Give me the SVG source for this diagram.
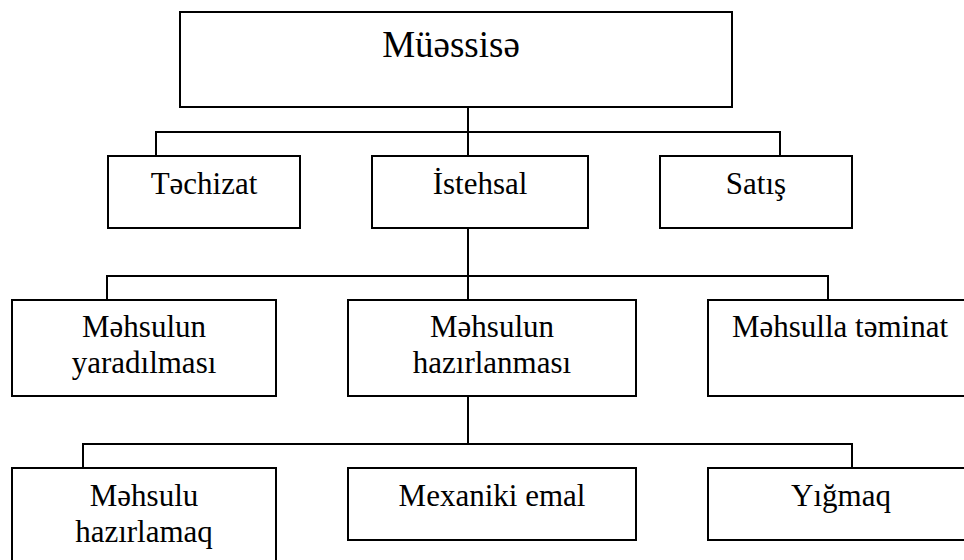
<svg xmlns="http://www.w3.org/2000/svg" width="964" height="560" viewBox="0 0 964 560">
<defs>
<rect id="boxdef" width="1" height="1"/>
</defs>
<rect width="964" height="560" fill="#fff"/>
<g id="connectors" fill="none" stroke="#000" stroke-width="2">
<path d="M468,107 V156"/>
<path d="M156,156 V132 H780 V156"/>
<path d="M468,228 V300"/>
<path d="M107,300 V276 H828 V300"/>
<path d="M468,396 V444"/>
<path d="M83,468 V444 H852 V468"/>
</g>
<g fill="#fff" stroke="#000" stroke-width="2">
<rect id="b-muessise" x="180" y="12" width="552" height="95"/>
<rect id="b-techizat" x="108" y="156" width="192" height="72"/>
<rect id="b-istehsal" x="372" y="156" width="216" height="72"/>
<rect id="b-satis" x="660" y="156" width="192" height="72"/>
<rect id="b-yaradilmasi" x="12" y="300" width="264" height="96"/>
<rect id="b-hazirlanmasi" x="348" y="300" width="288" height="96"/>
<rect id="b-teminat" x="708" y="300" width="272" height="96"/>
<rect id="b-hazirlamaq" x="12" y="468" width="264" height="110"/>
<rect id="b-mexaniki" x="348" y="468" width="288" height="72"/>
<rect id="b-yigmaq" x="708" y="468" width="272" height="72"/>
</g>
<g font-family="Liberation Serif, serif" font-size="31" text-anchor="middle" fill="#000">
<g id="n-muessise"><text x="451" y="57" font-size="37">Müəssisə</text></g>
<g id="n-techizat"><text x="204" y="194">Təchizat</text></g>
<g id="n-istehsal"><text x="480" y="194">İstehsal</text></g>
<g id="n-satis"><text x="756" y="194">Satış</text></g>
<g id="n-yaradilmasi"><text x="144" y="337">Məhsulun</text><text x="144" y="373">yaradılması</text></g>
<g id="n-hazirlanmasi"><text x="492" y="337">Məhsulun</text><text x="492" y="373">hazırlanması</text></g>
<g id="n-teminat"><text x="840" y="337">Məhsulla təminat</text></g>
<g id="n-hazirlamaq"><text x="144" y="506">Məhsulu</text><text x="144" y="542">hazırlamaq</text></g>
<g id="n-mexaniki"><text x="492" y="506">Mexaniki emal</text></g>
<g id="n-yigmaq"><text x="841" y="506">Yığmaq</text></g>
</g>
</svg>
